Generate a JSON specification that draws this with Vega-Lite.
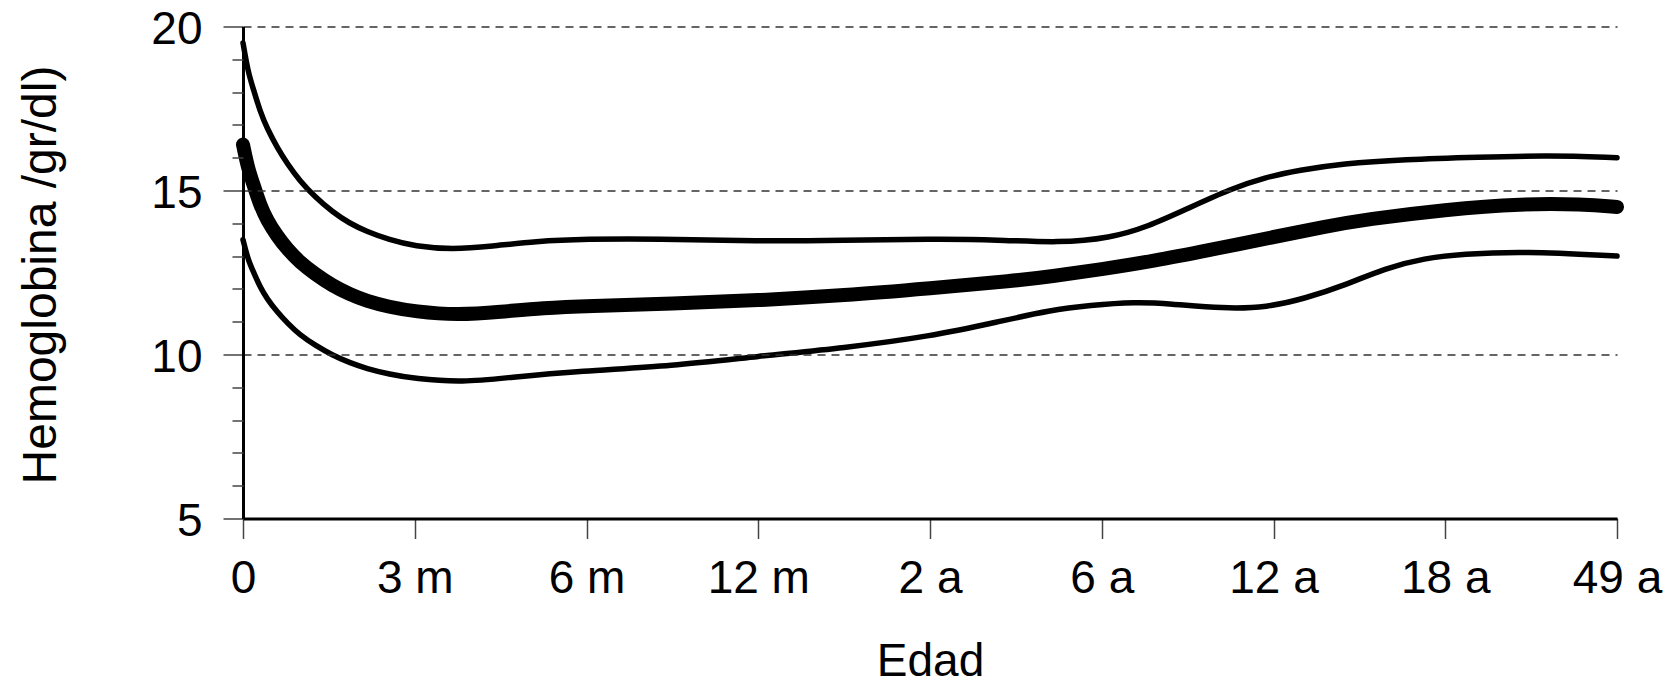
{
  "$schema": "https://vega.github.io/schema/vega-lite/v6.json",
  "autosize": {"type": "none"},
  "padding": {"left": 243, "top": 26.5, "right": 51, "bottom": 167.5},
  "width": 1374,
  "height": 492,
  "background": "white",
  "config": {
    "view": {"stroke": null},
    "font": "Liberation Sans",
    "axis": {"labelFont": "Liberation Sans", "titleFont": "Liberation Sans", "labelColor": "black", "titleColor": "black", "titleFontWeight": "normal"}
  },
  "data": {
    "values": [
      {"edad": 0, "hb": 19.5, "serie": "max"},
      {"edad": 0.03, "hb": 18.6, "serie": "max"},
      {"edad": 0.06, "hb": 18.1, "serie": "max"},
      {"edad": 0.1, "hb": 17.4, "serie": "max"},
      {"edad": 0.14, "hb": 16.9, "serie": "max"},
      {"edad": 0.2, "hb": 16.3, "serie": "max"},
      {"edad": 0.26, "hb": 15.8, "serie": "max"},
      {"edad": 0.33, "hb": 15.3, "serie": "max"},
      {"edad": 0.42, "hb": 14.8, "serie": "max"},
      {"edad": 0.52, "hb": 14.35, "serie": "max"},
      {"edad": 0.62, "hb": 14.0, "serie": "max"},
      {"edad": 0.72, "hb": 13.75, "serie": "max"},
      {"edad": 0.85, "hb": 13.5, "serie": "max"},
      {"edad": 1.0, "hb": 13.3, "serie": "max"},
      {"edad": 1.22, "hb": 13.2, "serie": "max"},
      {"edad": 1.45, "hb": 13.3, "serie": "max"},
      {"edad": 1.7, "hb": 13.45, "serie": "max"},
      {"edad": 2.0, "hb": 13.52, "serie": "max"},
      {"edad": 2.4, "hb": 13.53, "serie": "max"},
      {"edad": 3.0, "hb": 13.45, "serie": "max"},
      {"edad": 3.5, "hb": 13.48, "serie": "max"},
      {"edad": 4.0, "hb": 13.52, "serie": "max"},
      {"edad": 4.4, "hb": 13.5, "serie": "max"},
      {"edad": 4.75, "hb": 13.4, "serie": "max"},
      {"edad": 5.05, "hb": 13.55, "serie": "max"},
      {"edad": 5.27, "hb": 13.9, "serie": "max"},
      {"edad": 5.5, "hb": 14.45, "serie": "max"},
      {"edad": 5.75, "hb": 15.05, "serie": "max"},
      {"edad": 5.95, "hb": 15.4, "serie": "max"},
      {"edad": 6.15, "hb": 15.62, "serie": "max"},
      {"edad": 6.4, "hb": 15.82, "serie": "max"},
      {"edad": 6.76, "hb": 15.95, "serie": "max"},
      {"edad": 7.2, "hb": 16.02, "serie": "max"},
      {"edad": 7.6, "hb": 16.07, "serie": "max"},
      {"edad": 8.0, "hb": 16.0, "serie": "max"},

      {"edad": 0, "hb": 16.4, "serie": "media"},
      {"edad": 0.03, "hb": 15.65, "serie": "media"},
      {"edad": 0.06, "hb": 15.2, "serie": "media"},
      {"edad": 0.1, "hb": 14.55, "serie": "media"},
      {"edad": 0.14, "hb": 14.1, "serie": "media"},
      {"edad": 0.2, "hb": 13.6, "serie": "media"},
      {"edad": 0.26, "hb": 13.2, "serie": "media"},
      {"edad": 0.33, "hb": 12.82, "serie": "media"},
      {"edad": 0.42, "hb": 12.45, "serie": "media"},
      {"edad": 0.52, "hb": 12.1, "serie": "media"},
      {"edad": 0.62, "hb": 11.84, "serie": "media"},
      {"edad": 0.72, "hb": 11.63, "serie": "media"},
      {"edad": 0.85, "hb": 11.45, "serie": "media"},
      {"edad": 1.0, "hb": 11.31, "serie": "media"},
      {"edad": 1.25, "hb": 11.2, "serie": "media"},
      {"edad": 1.5, "hb": 11.3, "serie": "media"},
      {"edad": 1.75, "hb": 11.42, "serie": "media"},
      {"edad": 2.0, "hb": 11.48, "serie": "media"},
      {"edad": 2.5, "hb": 11.55, "serie": "media"},
      {"edad": 3.0, "hb": 11.65, "serie": "media"},
      {"edad": 3.5, "hb": 11.8, "serie": "media"},
      {"edad": 4.0, "hb": 12.02, "serie": "media"},
      {"edad": 4.5, "hb": 12.25, "serie": "media"},
      {"edad": 4.7, "hb": 12.38, "serie": "media"},
      {"edad": 5.0, "hb": 12.6, "serie": "media"},
      {"edad": 5.3, "hb": 12.85, "serie": "media"},
      {"edad": 5.62, "hb": 13.18, "serie": "media"},
      {"edad": 6.0, "hb": 13.58, "serie": "media"},
      {"edad": 6.3, "hb": 13.9, "serie": "media"},
      {"edad": 6.54, "hb": 14.12, "serie": "media"},
      {"edad": 7.0, "hb": 14.42, "serie": "media"},
      {"edad": 7.45, "hb": 14.6, "serie": "media"},
      {"edad": 7.8, "hb": 14.58, "serie": "media"},
      {"edad": 8.0, "hb": 14.5, "serie": "media"},

      {"edad": 0, "hb": 13.5, "serie": "min"},
      {"edad": 0.03, "hb": 12.88, "serie": "min"},
      {"edad": 0.06, "hb": 12.53, "serie": "min"},
      {"edad": 0.1, "hb": 12.05, "serie": "min"},
      {"edad": 0.14, "hb": 11.7, "serie": "min"},
      {"edad": 0.2, "hb": 11.29, "serie": "min"},
      {"edad": 0.26, "hb": 10.95, "serie": "min"},
      {"edad": 0.33, "hb": 10.6, "serie": "min"},
      {"edad": 0.42, "hb": 10.28, "serie": "min"},
      {"edad": 0.52, "hb": 9.98, "serie": "min"},
      {"edad": 0.62, "hb": 9.75, "serie": "min"},
      {"edad": 0.72, "hb": 9.57, "serie": "min"},
      {"edad": 0.85, "hb": 9.4, "serie": "min"},
      {"edad": 1.0, "hb": 9.26, "serie": "min"},
      {"edad": 1.28, "hb": 9.15, "serie": "min"},
      {"edad": 1.55, "hb": 9.3, "serie": "min"},
      {"edad": 1.96, "hb": 9.5, "serie": "min"},
      {"edad": 2.5, "hb": 9.65, "serie": "min"},
      {"edad": 3.0, "hb": 9.95, "serie": "min"},
      {"edad": 3.5, "hb": 10.2, "serie": "min"},
      {"edad": 4.0, "hb": 10.55, "serie": "min"},
      {"edad": 4.4, "hb": 11.0, "serie": "min"},
      {"edad": 4.7, "hb": 11.35, "serie": "min"},
      {"edad": 4.93, "hb": 11.5, "serie": "min"},
      {"edad": 5.2, "hb": 11.6, "serie": "min"},
      {"edad": 5.39, "hb": 11.55, "serie": "min"},
      {"edad": 5.71, "hb": 11.4, "serie": "min"},
      {"edad": 5.96, "hb": 11.43, "serie": "min"},
      {"edad": 6.19, "hb": 11.72, "serie": "min"},
      {"edad": 6.42, "hb": 12.12, "serie": "min"},
      {"edad": 6.65, "hb": 12.63, "serie": "min"},
      {"edad": 6.88, "hb": 12.94, "serie": "min"},
      {"edad": 7.1, "hb": 13.06, "serie": "min"},
      {"edad": 7.45, "hb": 13.15, "serie": "min"},
      {"edad": 8.0, "hb": 13.0, "serie": "min"}
    ]
  },
  "encoding": {
    "x": {
      "field": "edad",
      "type": "quantitative",
      "scale": {"domain": [0, 8], "nice": false, "zero": false},
      "axis": {
        "values": [0, 1, 2, 3, 4, 5, 6, 7, 8],
        "labelExpr": "['0', '3 m', '6 m', '12 m', '2 a', '6 a', '12 a', '18 a', '49 a'][datum.value]",
        "title": "Edad",
        "titleFontSize": 46,
        "titleBaseline": "alphabetic",
        "titleY": 157,
        "labelFontSize": 46,
        "labelPadding": 18,
        "labelFlush": false,
        "labelOverlap": false,
        "grid": false,
        "domainColor": "black",
        "domainWidth": 3,
        "tickColor": "#444444",
        "tickWidth": 1.5,
        "tickSize": 20,
        "zindex": 1
      }
    },
    "y": {
      "field": "hb",
      "type": "quantitative",
      "scale": {"domain": [5, 20], "nice": false, "zero": false},
      "axis": {
        "orient": "left",
        "values": [5, 10, 15, 20],
        "title": "Hemoglobina /gr/dl)",
        "titleFontSize": 48,
        "titleAngle": -90,
        "titleBaseline": "alphabetic",
        "titleAlign": "center",
        "titleX": -188,
        "titleY": 248,
        "labelFontSize": 46,
        "labelPadding": 21,
        "labelOffset": 3,
        "grid": true,
        "gridColor": "#333333",
        "gridDash": [8, 6],
        "gridWidth": 1.4,
        "domainColor": "black",
        "domainWidth": 3,
        "tickColor": "#444444",
        "tickWidth": 1.5,
        "tickSize": 20,
        "zindex": 1
      }
    }
  },
  "layer": [
    {
      "transform": [{"filter": "datum.serie !== 'media'"}],
      "mark": {"type": "line", "color": "black", "strokeWidth": 5.5, "strokeCap": "round", "strokeJoin": "round", "interpolate": "basis", "clip": false},
      "encoding": {"detail": {"field": "serie", "type": "nominal"}}
    },
    {
      "transform": [{"filter": "datum.serie === 'media'"}],
      "mark": {"type": "line", "color": "black", "strokeWidth": 14, "strokeCap": "round", "strokeJoin": "round", "interpolate": "basis", "clip": false},
      "encoding": {
        "y": {
          "field": "hb",
          "type": "quantitative",
          "scale": {"domain": [5, 20], "nice": false, "zero": false},
          "axis": {
            "orient": "left",
            "values": [6, 7, 8, 9, 11, 12, 13, 14, 16, 17, 18, 19],
            "title": null,
            "labels": false,
            "domain": false,
            "grid": false,
            "tickColor": "#444444",
            "tickWidth": 1.5,
            "tickSize": 11,
            "zindex": 1
          }
        }
      }
    }
  ],
  "resolve": {"axis": {"y": "independent"}, "scale": {"y": "shared"}}
}
